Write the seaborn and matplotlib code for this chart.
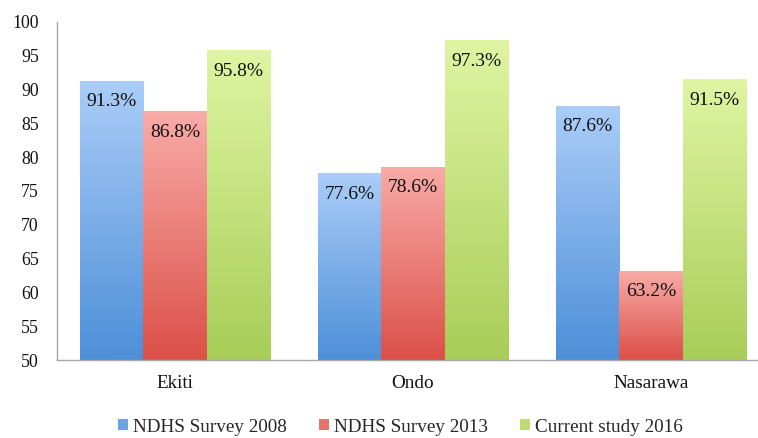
import numpy as np
import pandas as pd
import matplotlib
matplotlib.use("Agg")
import matplotlib.pyplot as plt
import seaborn as sns
from matplotlib.colors import LinearSegmentedColormap
from matplotlib.patches import Patch

# data
states = ["Ekiti", "Ondo", "Nasarawa"]
series = ["NDHS Survey 2008", "NDHS Survey 2013", "Current study 2016"]
ndhs_2008 = [91.3, 77.6, 87.6]
ndhs_2013 = [86.8, 78.6, 63.2]
study_2016 = [95.8, 97.3, 91.5]

# gradient (bottom, top) colours per series
bottom_cols = ["#4d8fd8", "#db5048", "#a8cd58"]
top_cols = ["#abcdf8", "#f9aba8", "#dff5a2"]

df = pd.DataFrame({
    "state": states * 3,
    "series": [s for s in series for _ in states],
    "value": ndhs_2008 + ndhs_2013 + study_2016,
})

sns.set_style("white")
plt.rcParams["font.family"] = ["Liberation Serif", "DejaVu Serif"]

fig = plt.figure(figsize=(7.58, 4.38), dpi=100)
ax = fig.add_axes([0.075, 0.178, 0.925, 0.772])

sns.barplot(data=df, x="state", y="value", hue="series", order=states,
            hue_order=series, palette=bottom_cols, width=0.8,
            edgecolor="none", legend=False, ax=ax)

ax.set_ylim(50, 100)
ax.set_xlim(-0.496, 2.45)

# gradient fill clipped to each bar + value labels
for i, container in enumerate(ax.containers):
    cmap = LinearSegmentedColormap.from_list(f"g{i}", [bottom_cols[i], top_cols[i]])
    for patch in container:
        x0, w = patch.get_x(), patch.get_width()
        top = patch.get_y() + patch.get_height()
        grad = np.linspace(0, 1, 256).reshape(-1, 1)
        im = ax.imshow(grad, cmap=cmap, origin="lower", aspect="auto",
                       extent=[x0, x0 + w, 50, top], zorder=patch.get_zorder() + 0.1)
        im.set_clip_path(patch)
        ax.annotate(f"{top:.1f}%", (x0 + w / 2, top), xytext=(0, -9),
                    textcoords="offset points", ha="center", va="top",
                    fontsize=14, color="#111111", zorder=5)

ax.set_ylim(50, 100)
ax.set_xlim(-0.496, 2.45)
ax.set_yticks(range(50, 101, 5))
ax.set_xlabel("")
ax.set_ylabel("")
ax.tick_params(axis="both", length=0, colors="#111111")
ax.tick_params(axis="x", pad=11, labelsize=13.8)
ax.tick_params(axis="y", pad=13, labelsize=12.8)
for s in ["top", "right"]:
    ax.spines[s].set_visible(False)
for s in ["left", "bottom"]:
    ax.spines[s].set_color("#a6a6a6")
    ax.spines[s].set_linewidth(1.0)

handles = [Patch(facecolor=c, edgecolor="none") for c in ["#6ea3e3", "#e8736c", "#bcdc78"]]
fig.legend(handles, series, loc="center", bbox_to_anchor=(0.528, 0.025),
           ncol=3, frameon=False, fontsize=13.8, handlelength=0.5,
           handleheight=0.5, handletextpad=0.26, columnspacing=1.7)

fig.savefig("out.png", dpi=100)
